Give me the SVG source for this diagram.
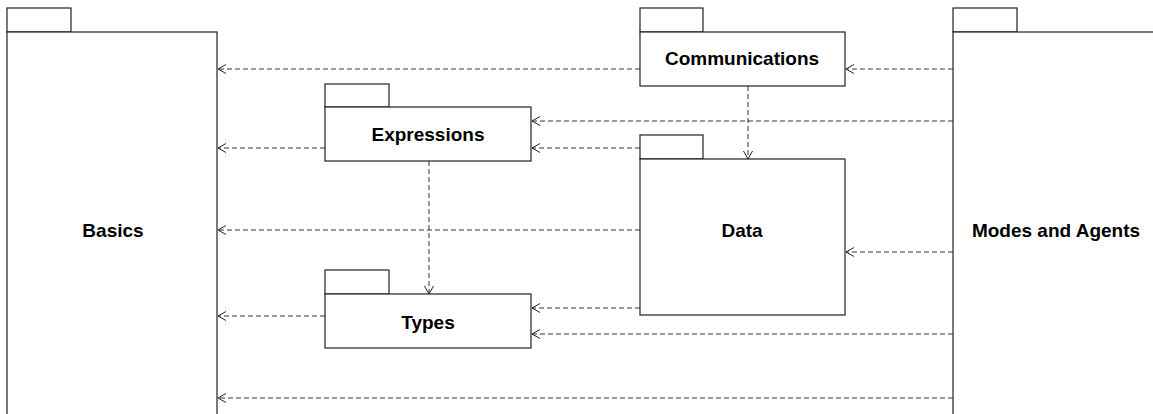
<svg xmlns="http://www.w3.org/2000/svg" width="1153" height="414" viewBox="0 0 1153 414">
<style>
.pk{fill:#fff;stroke:#222;stroke-width:1.2}
.lb{font-family:"Liberation Sans",Arial,sans-serif;font-weight:bold;font-size:19px;fill:#000;text-anchor:middle}
.c{fill:none;stroke:#333;stroke-width:1;stroke-dasharray:5,3;marker-end:url(#ah)}
</style>
<defs>
<marker id="ah" markerWidth="10" markerHeight="12" refX="8" refY="5" orient="auto" markerUnits="userSpaceOnUse">
<path d="M0,0.5 L8,5 L0,9.5" fill="none" stroke="#222" stroke-width="1"/>
</marker>
</defs>
<rect width="1153" height="414" fill="#fff"/>
<g id="connectors">
<line class="c" x1="640" y1="69" x2="218" y2="69"/>
<line class="c" x1="953" y1="69" x2="846" y2="69"/>
<line class="c" x1="953" y1="121" x2="532" y2="121"/>
<line class="c" x1="640" y1="148" x2="532" y2="148"/>
<line class="c" x1="325" y1="148" x2="218" y2="148"/>
<line class="c" x1="748" y1="86" x2="748" y2="159"/>
<line class="c" x1="429" y1="161" x2="429" y2="294"/>
<line class="c" x1="640" y1="230" x2="218" y2="230"/>
<line class="c" x1="953" y1="252" x2="846" y2="252"/>
<line class="c" x1="640" y1="308" x2="532" y2="308"/>
<line class="c" x1="325" y1="316" x2="218" y2="316"/>
<line class="c" x1="953" y1="334" x2="532" y2="334"/>
<line class="c" x1="953" y1="398" x2="218" y2="398"/>
</g>
<g id="basics">
<rect class="pk" x="7" y="8" width="64" height="24"/>
<rect class="pk" x="7" y="32" width="210" height="390"/>
<text class="lb" x="113" y="237">Basics</text>
</g>
<g id="communications">
<rect class="pk" x="640" y="8" width="63" height="24"/>
<rect class="pk" x="640" y="32" width="205" height="54"/>
<text class="lb" x="742" y="65">Communications</text>
</g>
<g id="modes">
<rect class="pk" x="953" y="8" width="64" height="24"/>
<rect class="pk" x="953" y="32" width="220" height="390"/>
<text class="lb" x="1056" y="237">Modes and Agents</text>
</g>
<g id="expressions">
<rect class="pk" x="325" y="84" width="64" height="23"/>
<rect class="pk" x="325" y="107" width="206" height="54"/>
<text class="lb" x="428" y="141">Expressions</text>
</g>
<g id="data">
<rect class="pk" x="640" y="135" width="63" height="24"/>
<rect class="pk" x="640" y="159" width="205" height="156"/>
<text class="lb" x="742" y="237">Data</text>
</g>
<g id="types">
<rect class="pk" x="325" y="270" width="64" height="24"/>
<rect class="pk" x="325" y="294" width="206" height="54"/>
<text class="lb" x="428" y="329">Types</text>
</g>
</svg>
